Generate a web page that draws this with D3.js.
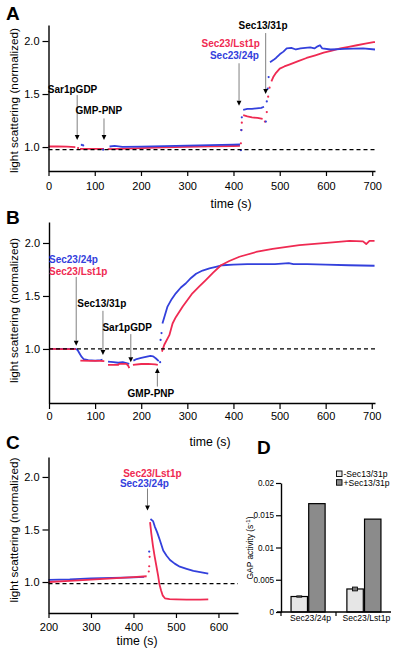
<!DOCTYPE html>
<html><head><meta charset="utf-8">
<script src="https://cdn.jsdelivr.net/npm/d3@7/dist/d3.min.js"></script>
<style>body{margin:0;background:#fff}svg{display:block}</style>
</head><body>
<script>
// ---------------- DATA ----------------
const RED = "#ef2a52", BLUE = "#3340dc";
const yTicksScatter = [1.0, 1.5, 2.0];
const timeTicksAB = [0,100,200,300,400,500,600,700];
const timeTicksC = [200,300,400,500,600];

// Panel A (time s, normalized light scattering); null = gap
const A_lst1 = [[0,1.005],[20,1.006],[40,1.004],[58,1.0],null,[68,0.983],[90,0.983],[110,0.982],[120,0.982],null,
  [128,0.98],[150,0.982],[200,0.99],[250,0.996],[300,1.002],[350,1.006],[400,1.01],[414,1.012],null,
  [421,1.30],[430,1.29],[440,1.28],[452,1.275],[463,1.265],null,
  [482,1.62],[486,1.66],[492,1.70],[500,1.74],[510,1.76],[522,1.78],[540,1.81],[558,1.84],[577,1.865],
  [595,1.89],[613,1.91],[631,1.93],[649,1.945],[667,1.96],[685,1.975],[703,1.99],[706,1.99]];
const A_lst1Dots = [[64,0.99],[416,1.035],[417,1.16],[418,1.23],[468,1.24],[472,1.33],[475,1.475],[478,1.56]];
const A_24 = [[132,1.005],[143,1.01],[160,1.002],[200,1.003],[250,1.008],[300,1.013],[350,1.018],[400,1.022],[414,1.024],null,
  [421,1.35],[430,1.36],[440,1.36],[450,1.365],[460,1.37],[466,1.38],null,
  [479,1.80],[486,1.82],[492,1.84],[500,1.875],[508,1.90],[515,1.93],[525,1.935],[535,1.92],[545,1.93],
  [555,1.935],[566,1.94],[575,1.93],[582,1.95],[587,1.96],[592,1.93],[610,1.92],[640,1.925],[680,1.93],[706,1.92]];
const A_24Dots = [[72,1.02],[75,1.015],[118,0.975],[416,0.97],[417,1.16],[418,1.28],[470,1.24],[472,1.43],[474,1.55],[476,1.66]];
const A_notes = [ // [t, v, text, colour]
  [52,1.51,"Sar1pGDP","#000"],[109,1.31,"GMP-PNP","#000"],[394,1.94,"Sec23/Lst1p",RED],
  [402,1.835,"Sec23/24p",BLUE],[464,2.11,"Sec13/31p","#000"]];
const A_arrows = [[62,1.49,1.066],[120,1.27,1.066],[412,1.79,1.39],[469.6,2.075,1.50]]; // [t, from, to]

// Panel B
const B_24 = [[0,1.0],[30,1.0],[58,1.0],[62,0.99],[66,0.96],[70,0.93],[75,0.905],[85,0.895],[100,0.89],[112,0.895],[116,0.9],null,
  [128,0.88],[140,0.875],[150,0.87],[160,0.875],[170,0.865],[174,0.86],null,
  [183,0.89],[190,0.905],[200,0.915],[210,0.925],[220,0.935],[226,0.93],[232,0.91],[238,0.885],null,
  [246,1.24],[257,1.40],[266,1.47],[275,1.525],[286,1.58],[297,1.62],[308,1.67],[319,1.71],[333,1.74],
  [348,1.76],[362,1.775],[376,1.79],[400,1.795],[430,1.80],[460,1.80],[490,1.80],[520,1.81],[530,1.80],
  [560,1.80],[600,1.795],[650,1.79],[706,1.785]];
const B_24Dots = [[241,0.875],[242,1.085],[244,1.15]];
const B_lst1 = [[0,1.0],[30,0.998],[58,0.998],null,[68,0.89],[90,0.888],[110,0.888],[120,0.886],null,
  [128,0.85],[140,0.85],[150,0.85],[152,0.86],[168,0.86],[172,0.84],[174,0.82],null,
  [182,0.85],[200,0.858],[215,0.86],[230,0.855],[236,0.85],null,
  [245,0.975],[250,1.04],[261,1.13],[268,1.24],[275,1.30],[290,1.40],[311,1.525],[326,1.59],[340,1.65],
  [356,1.72],[373,1.79],[391,1.83],[413,1.87],[449,1.915],[485,1.945],[543,1.98],[615,2.005],[652,2.02],
  [681,2.015],[688,1.99],[695,2.02],[706,2.02]];
const B_lst1Dots = [];
const B_notes = [[0,1.81,"Sec23/24p",BLUE,"start"],[0,1.70,"Sec23/Lst1p",RED,"start"],
  [114.5,1.40,"Sec13/31p","#000"],[169.5,1.17,"Sar1pGDP","#000"],[221,0.55,"GMP-PNP","#000"]];
const B_arrows = [[59,1.68,1.03],[117,1.36,0.943],[177.4,1.14,0.875],[235,0.645,0.82]];

// Panel C
const C_24 = [[200,1.02],[250,1.025],[300,1.035],[350,1.04],[400,1.045],[425,1.048],null,
  [440,1.60],[446,1.58],[450,1.53],[456,1.47],[462,1.40],[470,1.30],[478,1.25],[486,1.21],[497,1.175],
  [509,1.146],[525,1.125],[541,1.105],[557,1.095],[576,1.08]];
const C_24Dots = [[437,1.29]];
const C_lst1 = [[200,1.0],[250,1.01],[300,1.022],[350,1.035],[400,1.047],[431,1.055],null,
  [439,1.57],[442,1.46],[446,1.34],[450,1.24],[454,1.15],[458,1.06],[461,0.98],[465,0.92],[469,0.87],
  [474,0.845],[485,0.838],[500,0.835],[525,0.832],[557,0.832],[576,0.835]];
const C_lst1Dots = [[436,1.1],[437,1.15],[438,1.24]];
const C_notes = [[444.5,2.0,"Sec23/Lst1p",RED],[425.6,1.905,"Sec23/24p",BLUE]];
const C_arrows = [[433,1.89,1.68]];

// Panel D
const D_categories = ["Sec23/24p","Sec23/Lst1p"];
const D_series = ["-Sec13/31p","+Sec13/31p"];
const D_minus = [0.0024, 0.00357];
const D_plus = [0.0168, 0.0144];
const D_minusErr = [0.0001, 0.0003];
const D_ticks = [0, 0.005, 0.01, 0.015, 0.02];

// ---------------- DRAW ----------------
const FONT = "'Liberation Sans', Arial, Helvetica, sans-serif";
const svg = d3.select("body").append("svg").attr("width",400).attr("height",651)
  .style("font-family",FONT).style("background","#fff");

function styleAxis(g){
  g.selectAll("path.domain").attr("stroke","#000").attr("stroke-width",1.4);
  g.selectAll(".tick line").attr("stroke","#000").attr("stroke-width",1.2);
  g.selectAll(".tick text").attr("fill","#000").style("font-family",FONT);
}

function panel(o){
  const x = d3.scaleLinear().domain(o.xDomain).range(o.xRange);
  const y = d3.scaleLinear().domain(o.yDomain).range(o.yRange);
  const g = svg.append("g");
  const line = d3.line().defined(d => d).x(d => x(d[0])).y(d => y(d[1]));
  o.series.forEach(s => {
    g.append("path").datum(s.data).attr("d",line).attr("fill","none")
      .attr("stroke",s.color).attr("stroke-width",1.8).attr("stroke-linejoin","round");
    g.selectAll(null).data(s.dots).enter().append("circle")
      .attr("cx",d=>x(d[0])).attr("cy",d=>y(d[1])).attr("r",1.1).attr("fill",s.color);
  });
  g.append("line").attr("x1",o.xRange[0]).attr("x2",o.xRange[1])
    .attr("y1",y(o.dash)).attr("y2",y(o.dash)).attr("stroke","#000")
    .attr("stroke-width",1.3).attr("stroke-dasharray","4,3");
  const gx = g.append("g").attr("transform",`translate(0,${o.yRange[0]})`)
    .call(d3.axisBottom(x).tickValues(o.xTicks).tickFormat(d3.format("d"))
      .tickSize(o.xTickSize).tickSizeOuter(0).tickPadding(o.xPad));
  gx.selectAll(".tick text").attr("font-size",11);
  styleAxis(gx);
  const gy = g.append("g").attr("transform",`translate(${o.xRange[0]},0)`)
    .call(d3.axisLeft(y).tickValues(yTicksScatter).tickFormat(d3.format(".1f"))
      .tickSize(6).tickSizeOuter(0).tickPadding(3));
  gy.selectAll(".tick text").attr("font-size",11);
  styleAxis(gy);
  // arrows
  o.arrows.forEach(a => {
    const ax = x(a[0]), y1 = y(a[1]), y2 = y(a[2]);
    const dir = y2 > y1 ? 1 : -1, hl = 5, hw = 2.4;
    g.append("line").attr("x1",ax).attr("x2",ax).attr("y1",y1).attr("y2",y2 - dir*hl)
      .attr("stroke","#808080").attr("stroke-width",1);
    g.append("path").attr("d",`M${ax},${y2} L${ax-hw},${y2-dir*hl} L${ax+hw},${y2-dir*hl} Z`).attr("fill","#000");
  });
  o.notes.forEach(n => {
    g.append("text").attr("x",x(n[0])).attr("y",y(n[1])).attr("text-anchor",n[4]||"middle")
      .attr("font-size",10).attr("font-weight","bold").attr("fill",n[3]).text(n[2]);
  });
  // labels
  g.append("text").attr("transform",`translate(17.5,${o.yLabelY}) rotate(-90)`)
    .attr("text-anchor","middle").attr("font-size",11.8).attr("fill","#000")
    .text("light scattering (normalized)");
  g.append("text").attr("x",o.tLabel[0]).attr("y",o.tLabel[1]).attr("text-anchor","middle")
    .attr("font-size",12.3).attr("fill","#000").text("time (s)");
  g.append("text").attr("x",o.letter[0]).attr("y",o.letter[1]).attr("font-size",19)
    .attr("font-weight","bold").attr("fill","#000").text(o.letter[2]);
}

panel({xDomain:[0,706], xRange:[48.5,375], yDomain:[0.774,2.151], yRange:[171,25],
  xTicks:timeTicksAB, xTickSize:5, xPad:6, dash:0.975, yLabelY:100.5,
  tLabel:[231,208], letter:[6,20,"A"],
  series:[{data:A_lst1,dots:A_lst1Dots,color:RED},{data:A_24,dots:A_24Dots,color:BLUE}],
  arrows:A_arrows, notes:A_notes});

panel({xDomain:[0,707], xRange:[49,375], yDomain:[0.49,2.198], yRange:[403,222],
  xTicks:timeTicksAB, xTickSize:6, xPad:3, dash:1.0, yLabelY:310.5,
  tLabel:[210,446], letter:[6,224,"B"],
  series:[{data:B_24,dots:B_24Dots,color:BLUE},{data:B_lst1,dots:B_lst1Dots,color:RED}],
  arrows:B_arrows, notes:B_notes});

panel({xDomain:[200,646], xRange:[48.5,238], yDomain:[0.705,2.19], yRange:[613,457],
  xTicks:timeTicksC, xTickSize:5, xPad:5, dash:0.985, yLabelY:530,
  tLabel:[137,645], letter:[6,449,"C"],
  series:[{data:C_24,dots:C_24Dots,color:BLUE},{data:C_lst1,dots:C_lst1Dots,color:RED}],
  arrows:C_arrows, notes:C_notes});

// Panel D bar chart
(function(){
  const g = svg.append("g");
  const y = d3.scaleLinear().domain([0,0.02]).range([612,483]);
  const x0 = d3.scaleBand().domain(D_categories).range([281,391]).paddingInner(0.39).paddingOuter(0.18);
  const x1 = d3.scaleBand().domain(D_series).range([0,x0.bandwidth()]).paddingInner(0.07);
  const rows = D_categories.map((c,i)=>({c, vals:[
    {s:D_series[0], v:D_minus[i], e:D_minusErr[i], fill:"#e6e6e6"},
    {s:D_series[1], v:D_plus[i], e:0, fill:"#8b8b8b"}]}));
  rows.forEach(r => r.vals.forEach(b => {
    const bx = x0(r.c) + x1(b.s);
    g.append("rect").attr("x",bx).attr("y",y(b.v)).attr("width",x1.bandwidth())
      .attr("height",y(0)-y(b.v)).attr("fill",b.fill).attr("stroke","#000").attr("stroke-width",1.2);
    if (b.e > 0) {
      g.append("rect").attr("x",bx + x1.bandwidth()/2 - 2.5).attr("y",y(b.v+b.e))
        .attr("width",5).attr("height",Math.max(1.2, y(b.v-b.e)-y(b.v+b.e)))
        .attr("fill","#777").attr("stroke","#000").attr("stroke-width",0.8);
    }
  }));
  const gy = g.append("g").attr("transform","translate(281,0)")
    .call(d3.axisLeft(y).tickValues(D_ticks).tickFormat(d => d === 0 ? "0" : String(d))
      .tickSize(5).tickSizeOuter(0).tickPadding(2));
  gy.selectAll(".tick text").attr("font-size",8.2);
  styleAxis(gy);
  // baseline and separators
  g.append("line").attr("x1",277).attr("x2",391).attr("y1",y(0)).attr("y2",y(0))
    .attr("stroke","#000").attr("stroke-width",1.4);
  const sep = x0(D_categories[1]) - x0.step()*x0.paddingInner()/2;
  [281, sep].forEach(sx => g.append("line").attr("x1",sx).attr("x2",sx)
    .attr("y1",y(0)).attr("y2",y(0)+4).attr("stroke","#000").attr("stroke-width",1.2));
  D_categories.forEach(c => g.append("text").attr("x",x0(c)+x0.bandwidth()/2+2.5).attr("y",621)
    .attr("text-anchor","middle").attr("font-size",8.6).attr("fill","#000").text(c));
  // legend
  D_series.forEach((s,i) => {
    g.append("rect").attr("x",336.5).attr("y",471+i*8.7).attr("width",5.5).attr("height",5.5)
      .attr("fill", i ? "#8b8b8b" : "#e6e6e6").attr("stroke","#000").attr("stroke-width",0.9);
    g.append("text").attr("x",343.5).attr("y",477+i*8.7).attr("font-size",8.6).attr("fill","#000").text(s);
  });
  const yl = g.append("text").attr("transform","translate(252.5,548) rotate(-90)")
    .attr("text-anchor","middle").attr("font-size",8.4).attr("fill","#000");
  yl.append("tspan").text("GAP activity (s");
  yl.append("tspan").attr("font-size",6).attr("dy",-3).text("-1");
  yl.append("tspan").attr("dy",3).text(")");
  g.append("text").attr("x",257).attr("y",454).attr("font-size",19).attr("font-weight","bold")
    .attr("fill","#000").text("D");
})();
</script>
</body></html>
